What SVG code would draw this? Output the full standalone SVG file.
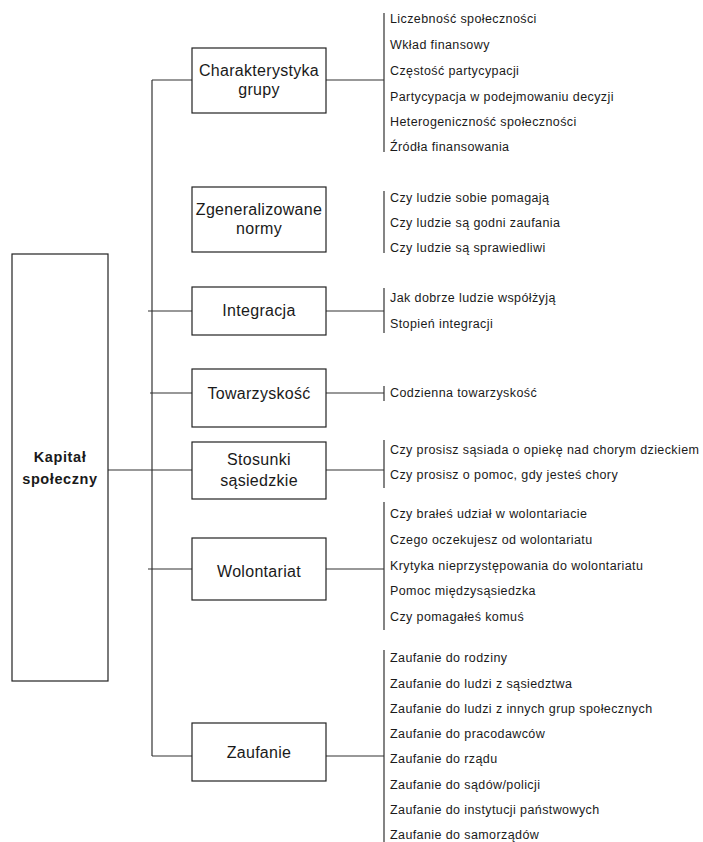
<svg xmlns="http://www.w3.org/2000/svg" width="703" height="842" viewBox="0 0 703 842">
<style>
.box{fill:#fff;stroke:#222;stroke-width:1.2}
.ln{fill:none;stroke:#333;stroke-width:1.2}
.lbl{font-family:"Liberation Sans",Arial,sans-serif;font-size:16px;letter-spacing:0.3px;fill:#1a1a1a;text-anchor:middle}
.root{font-family:"Liberation Sans",Arial,sans-serif;font-size:14.5px;font-weight:bold;letter-spacing:0.6px;fill:#1a1a1a;text-anchor:middle}
.it{font-family:"Liberation Sans",Arial,sans-serif;font-size:12.5px;letter-spacing:0.4px;fill:#1a1a1a}
</style>
<rect width="703" height="842" fill="#fff"/>
<g id="connectors">
<path class="ln" d="M152,80 V756"/>
<path class="ln" d="M152,80 H192 M326,80 H384 M384,13 V152"/>
<path class="ln" d="M384,191 V253"/>
<path class="ln" d="M148,311 H192 M326,311 H384 M384,288 V333"/>
<path class="ln" d="M150,393 H192 M326,393 H384 M384,386 V401"/>
<path class="ln" d="M108,470 H192 M326,470 H384 M384,440 V488"/>
<path class="ln" d="M148,569 H192 M326,569 H384 M384,502 V630"/>
<path class="ln" d="M152,756 H192 M326,756 H384 M384,650 V842"/>
</g>
<g id="root">
<rect class="box" x="12" y="254" width="96" height="427"/>
<text class="root" x="60" y="462">Kapitał</text>
<text class="root" x="60" y="484">społeczny</text>
</g>
<g id="charakterystyka">
<rect class="box" x="192" y="48" width="134" height="65"/>
<text class="lbl" x="259" y="76">Charakterystyka</text>
<text class="lbl" x="259" y="95">grupy</text>
</g>
<g id="normy">
<rect class="box" x="192" y="187" width="134" height="65"/>
<text class="lbl" x="259" y="215">Zgeneralizowane</text>
<text class="lbl" x="259" y="234">normy</text>
</g>
<g id="integracja">
<rect class="box" x="192" y="287" width="134" height="48"/>
<text class="lbl" x="259" y="316">Integracja</text>
</g>
<g id="towarzyskosc">
<rect class="box" x="192" y="369" width="134" height="58"/>
<text class="lbl" x="259" y="399">Towarzyskość</text>
</g>
<g id="stosunki">
<rect class="box" x="192" y="442" width="134" height="57"/>
<text class="lbl" x="259" y="465">Stosunki</text>
<text class="lbl" x="259" y="486">sąsiedzkie</text>
</g>
<g id="wolontariat">
<rect class="box" x="192" y="538" width="134" height="62"/>
<text class="lbl" x="259" y="577">Wolontariat</text>
</g>
<g id="zaufanie">
<rect class="box" x="192" y="723" width="134" height="58"/>
<text class="lbl" x="259" y="758">Zaufanie</text>
</g>
<g id="items-charakterystyka">
<text class="it" x="390" y="22.5">Liczebność społeczności</text>
<text class="it" x="390" y="48.5">Wkład finansowy</text>
<text class="it" x="390" y="74.5">Częstość partycypacji</text>
<text class="it" x="390" y="100.5">Partycypacja w podejmowaniu decyzji</text>
<text class="it" x="390" y="125.5">Heterogeniczność społeczności</text>
<text class="it" x="390" y="150.5">Źródła finansowania</text>
</g>
<g id="items-normy">
<text class="it" x="390" y="201.5">Czy ludzie sobie pomagają</text>
<text class="it" x="390" y="226.5">Czy ludzie są godni zaufania</text>
<text class="it" x="390" y="251.5">Czy ludzie są sprawiedliwi</text>
</g>
<g id="items-integracja">
<text class="it" x="390" y="301.5">Jak dobrze ludzie współżyją</text>
<text class="it" x="390" y="327.5">Stopień integracji</text>
</g>
<g id="items-towarzyskosc">
<text class="it" x="390" y="396.5">Codzienna towarzyskość</text>
</g>
<g id="items-stosunki">
<text class="it" x="390" y="453.5">Czy prosisz sąsiada o opiekę nad chorym dzieckiem</text>
<text class="it" x="390" y="478.5">Czy prosisz o pomoc, gdy jesteś chory</text>
</g>
<g id="items-wolontariat">
<text class="it" x="390" y="517.5">Czy brałeś udział w wolontariacie</text>
<text class="it" x="390" y="543.5">Czego oczekujesz od wolontariatu</text>
<text class="it" x="390" y="569.5">Krytyka nieprzystępowania do wolontariatu</text>
<text class="it" x="390" y="594.5">Pomoc międzysąsiedzka</text>
<text class="it" x="390" y="620.5">Czy pomagałeś komuś</text>
</g>
<g id="items-zaufanie">
<text class="it" x="390" y="661.5">Zaufanie do rodziny</text>
<text class="it" x="390" y="687.5">Zaufanie do ludzi z sąsiedztwa</text>
<text class="it" x="390" y="712.5">Zaufanie do ludzi z innych grup społecznych</text>
<text class="it" x="390" y="737.5">Zaufanie do pracodawców</text>
<text class="it" x="390" y="762.5">Zaufanie do rządu</text>
<text class="it" x="390" y="788.5">Zaufanie do sądów/policji</text>
<text class="it" x="390" y="813.5">Zaufanie do instytucji państwowych</text>
<text class="it" x="390" y="839">Zaufanie do samorządów</text>
</g>
</svg>
